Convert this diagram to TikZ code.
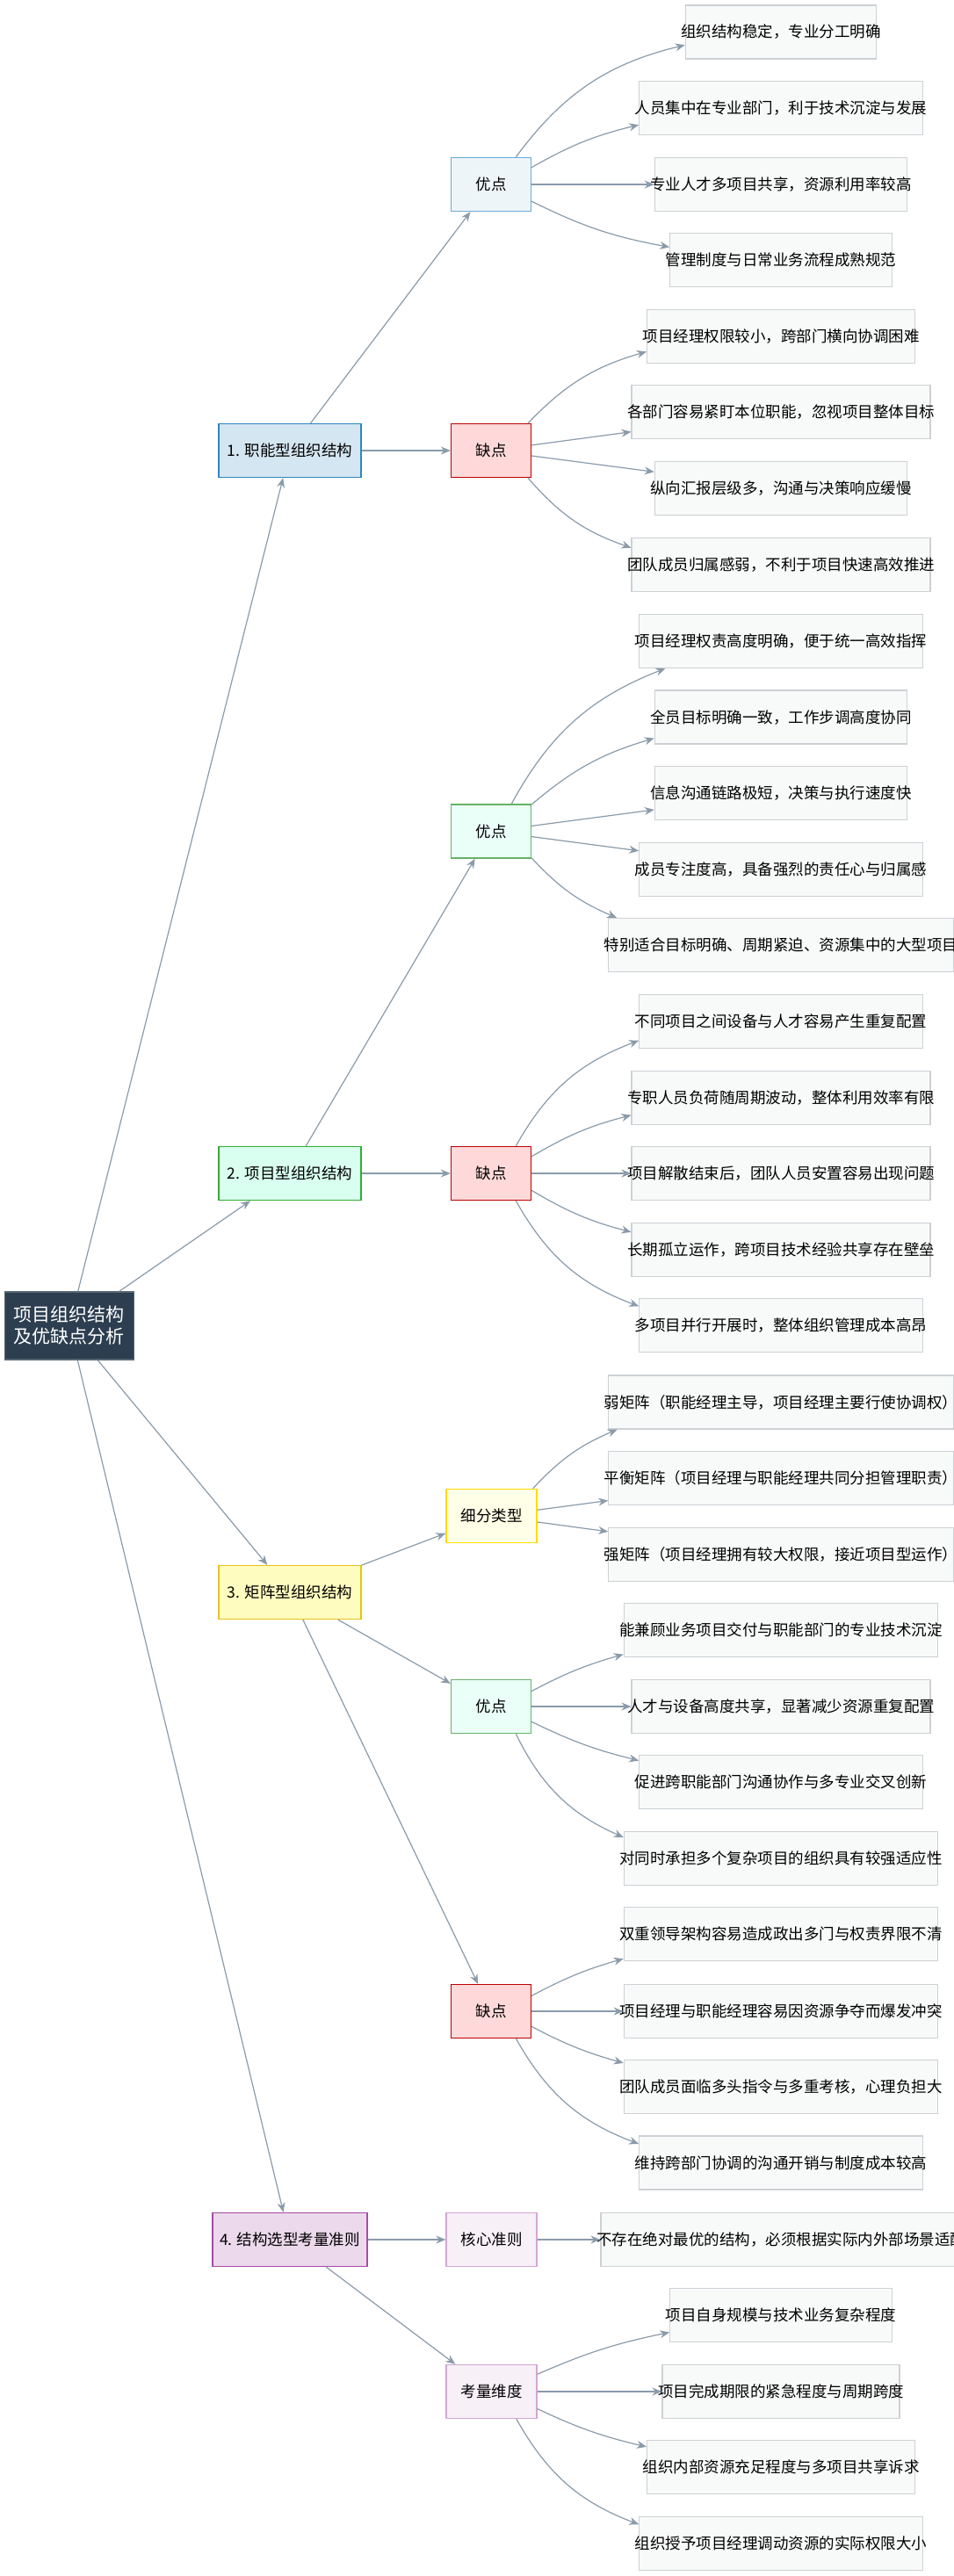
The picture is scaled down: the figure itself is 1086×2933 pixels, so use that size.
\documentclass[tikz,border=0pt]{standalone}
\usepackage{fontspec}
\setmainfont{Noto Sans CJK SC}
\usepackage{tikz}
\usetikzlibrary{arrows.meta}
\definecolor{edgecolor}{HTML}{8A9BAA}
\definecolor{rootcolor}{HTML}{2C3E50}
\definecolor{leafcolor}{HTML}{F8F9F9}
\definecolor{leafline}{HTML}{CDD1D5}
\definecolor{funcfill}{HTML}{D4E6F1}
\definecolor{funcline}{HTML}{2E86C1}

\begin{document}
\begin{tikzpicture}[x=1pt, y=-1pt,
    box/.style={rectangle, draw, line width=1.3pt, minimum height=61pt, align=center, font=\fontsize{17.5}{21}\selectfont, inner sep=0pt},
    main/.style={box, minimum width=162pt},
    sub/.style={box, minimum width=91pt},
    leaf/.style={box, draw=leafline, fill=leafcolor, inner xsep=-5pt, line width=1.1pt},
    edge/.style={draw=edgecolor, line width=1.2pt, -{Stealth[length=11pt, width=9pt]}},
]
    \useasboundingbox[fill=white] (0,0) rectangle (1086,2933);

    % Root
    \node[box, fill=rootcolor, draw=rootcolor!80, text=white, minimum width=147pt, minimum height=77pt, font=\fontsize{21}{25}\selectfont] (root) at (79,1509.5) {项目组织结构\\及优缺点分析};

    % 1. functional
    \node[main, fill=funcfill, draw=funcline] (func) at (330,513) {1. 职能型组织结构};
    \node[sub, fill=funcfill!40, draw=funcline!70] (funcadv) at (559,210) {优点};
    \node[sub, fill=red!15, draw=red!75!black] (funcdis) at (559,513) {缺点};
    \node[leaf] (fa1) at (889,36.5) {组织结构稳定，专业分工明确};
    \node[leaf] (fa2) at (889,123) {人员集中在专业部门，利于技术沉淀与发展};
    \node[leaf] (fa3) at (889,210) {专业人才多项目共享，资源利用率较高};
    \node[leaf] (fa4) at (889,296) {管理制度与日常业务流程成熟规范};
    \node[leaf] (fd1) at (889,383) {项目经理权限较小，跨部门横向协调困难};
    \node[leaf] (fd2) at (889,469) {各部门容易紧盯本位职能，忽视项目整体目标};
    \node[leaf] (fd3) at (889,556) {纵向汇报层级多，沟通与决策响应缓慢};
    \node[leaf] (fd4) at (889,643) {团队成员归属感弱，不利于项目快速高效推进};

    % 2. projectized
    \node[main, fill=green!40!cyan!15, draw=green!60!black!80] (proj) at (330,1336) {2. 项目型组织结构};
    \node[sub, fill=green!30!cyan!8, draw=green!50!black!60] (projadv) at (559,946.5) {优点};
    \node[sub, fill=red!15, draw=red!75!black] (projdis) at (559,1336) {缺点};
    \node[leaf] (pa1) at (889,730) {项目经理权责高度明确，便于统一高效指挥};
    \node[leaf] (pa2) at (889,816.5) {全员目标明确一致，工作步调高度协同};
    \node[leaf] (pa3) at (889,903) {信息沟通链路极短，决策与执行速度快};
    \node[leaf] (pa4) at (889,990) {成员专注度高，具备强烈的责任心与归属感};
    \node[leaf] (pa5) at (889,1076) {特别适合目标明确、周期紧迫、资源集中的大型项目};
    \node[leaf] (pd1) at (889,1163) {不同项目之间设备与人才容易产生重复配置};
    \node[leaf] (pd2) at (889,1250) {专职人员负荷随周期波动，整体利用效率有限};
    \node[leaf] (pd3) at (889,1336) {项目解散结束后，团队人员安置容易出现问题};
    \node[leaf] (pd4) at (889,1423) {长期孤立运作，跨项目技术经验共享存在壁垒};
    \node[leaf] (pd5) at (889,1509) {多项目并行开展时，整体组织管理成本高昂};

    % 3. matrix
    \node[main, fill=yellow!25, draw=yellow!70!orange!90!black] (matrix) at (330,1813) {3. 矩阵型组织结构};
    \node[sub, minimum width=103pt, fill=yellow!10, draw=yellow!80!orange] (mattype) at (559.5,1726) {细分类型};
    \node[sub, fill=green!30!cyan!8, draw=green!50!black!60] (matadv) at (559,1943) {优点};
    \node[sub, fill=red!15, draw=red!75!black] (matdis) at (559,2290) {缺点};
    \node[leaf] (mt1) at (889,1596.5) {弱矩阵（职能经理主导，项目经理主要行使协调权）};
    \node[leaf] (mt2) at (889,1683) {平衡矩阵（项目经理与职能经理共同分担管理职责）};
    \node[leaf] (mt3) at (889,1770) {强矩阵（项目经理拥有较大权限，接近项目型运作）};
    \node[leaf] (ma1) at (889,1856) {能兼顾业务项目交付与职能部门的专业技术沉淀};
    \node[leaf] (ma2) at (889,1943) {人才与设备高度共享，显著减少资源重复配置};
    \node[leaf] (ma3) at (889,2029) {促进跨职能部门沟通协作与多专业交叉创新};
    \node[leaf] (ma4) at (889,2116) {对同时承担多个复杂项目的组织具有较强适应性};
    \node[leaf] (md1) at (889,2202) {双重领导架构容易造成政出多门与权责界限不清};
    \node[leaf] (md2) at (889,2290) {项目经理与职能经理容易因资源争夺而爆发冲突};
    \node[leaf] (md3) at (889,2376) {团队成员面临多头指令与多重考核，心理负担大};
    \node[leaf] (md4) at (889,2462.5) {维持跨部门协调的沟通开销与制度成本较高};

    % 4. criteria
    \node[main, minimum width=176pt, fill=violet!15, draw=violet!70] (crit) at (330,2550) {4. 结构选型考量准则};
    \node[sub, minimum width=103pt, fill=violet!6, draw=violet!35] (critcore) at (559.5,2550) {核心准则};
    \node[sub, minimum width=103pt, fill=violet!6, draw=violet!35] (critdim) at (559.5,2723) {考量维度};
    \node[leaf] (cc1) at (889,2550) {不存在绝对最优的结构，必须根据实际内外部场景适配};
    \node[leaf] (cd1) at (889,2636) {项目自身规模与技术业务复杂程度};
    \node[leaf] (cd2) at (889,2723) {项目完成期限的紧急程度与周期跨度};
    \node[leaf] (cd3) at (889,2809) {组织内部资源充足程度与多项目共享诉求};
    \node[leaf] (cd4) at (889,2896) {组织授予项目经理调动资源的实际权限大小};

    % Arrows
    \foreach \n in {func, proj, matrix, crit}
        \draw[edge] (root) -- (\n);
    \foreach \a/\b in {func/funcadv, func/funcdis, proj/projadv, proj/projdis, matrix/mattype, matrix/matadv, matrix/matdis, crit/critcore, crit/critdim}
        \draw[edge] (\a) -- (\b);
    \foreach \n/\t in {fa1/20, fa2/8, fa3/0, fa4/-8}
        \draw[edge] (funcadv) to[bend left=\t] (\n);
    \foreach \n/\t in {fd1/15, fd2/0, fd3/0, fd4/-15}
        \draw[edge] (funcdis) to[bend left=\t] (\n);
    \foreach \n/\t in {pa1/20, pa2/12, pa3/0, pa4/0, pa5/-12}
        \draw[edge] (projadv) to[bend left=\t] (\n);
    \foreach \n/\t in {pd1/20, pd2/8, pd3/0, pd4/-8, pd5/-20}
        \draw[edge] (projdis) to[bend left=\t] (\n);
    \foreach \n/\t in {mt1/12, mt2/0, mt3/0}
        \draw[edge] (mattype) to[bend left=\t] (\n);
    \foreach \n/\t in {ma1/6, ma2/0, ma3/-6, ma4/-20}
        \draw[edge] (matadv) to[bend left=\t] (\n);
    \foreach \n/\t in {md1/6, md2/0, md3/-6, md4/-20}
        \draw[edge] (matdis) to[bend left=\t] (\n);
    \draw[edge] (critcore) -- (cc1);
    \foreach \n/\t in {cd1/6, cd2/0, cd3/-6, cd4/-20}
        \draw[edge] (critdim) to[bend left=\t] (\n);
\end{tikzpicture}
\end{document}
